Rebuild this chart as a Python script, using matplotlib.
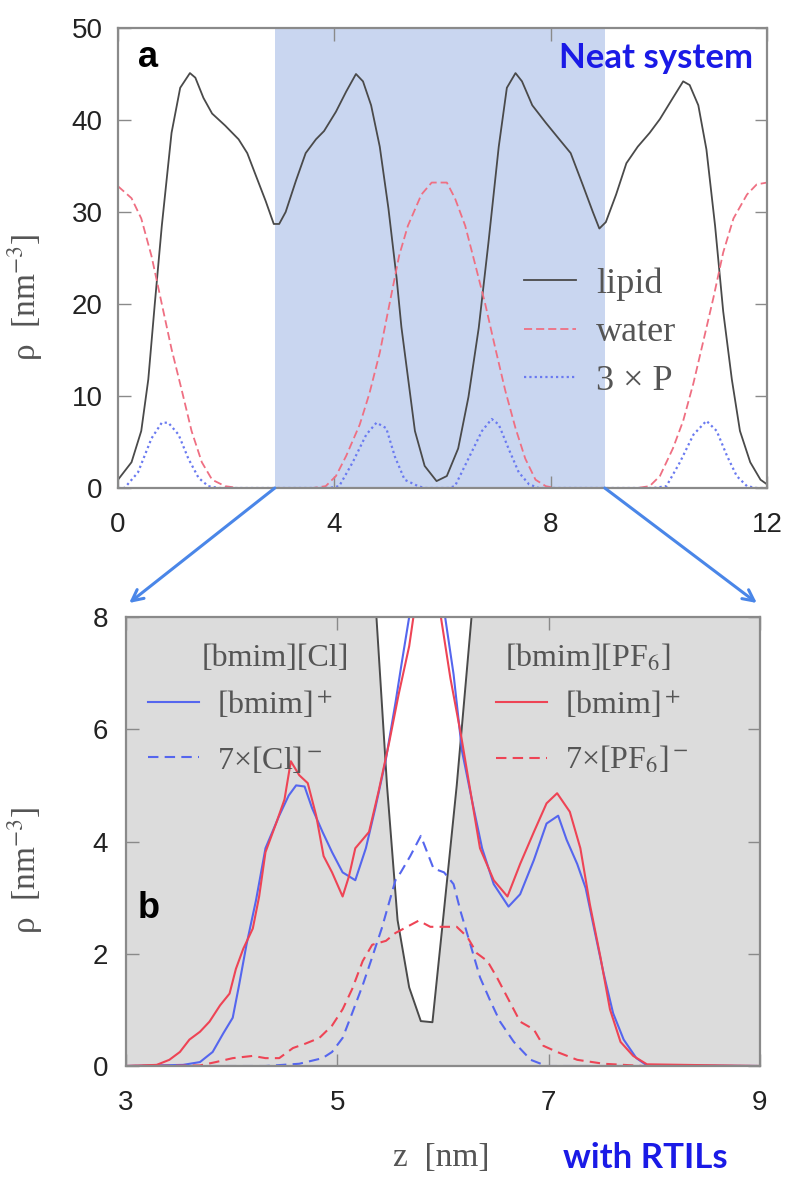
import matplotlib
matplotlib.use("Agg")
import matplotlib.pyplot as plt
from matplotlib.patches import ConnectionPatch

plt.rcParams['mathtext.fontset'] = 'stix'

# ---------------- data: top panel (neat system) ----------------
z_lipid = [0.0, 0.25, 0.43, 0.56, 0.68, 0.81, 0.99, 1.15, 1.33, 1.43, 1.58, 1.74, 1.98, 2.23, 2.39,
           2.54, 2.73, 2.88, 2.98, 3.1, 3.29, 3.47, 3.66, 3.81, 4.03, 4.22, 4.4, 4.53, 4.68, 4.84,
           5.0, 5.15, 5.24, 5.49, 5.67, 5.89, 6.08, 6.29, 6.48, 6.67, 6.85, 7.04, 7.19, 7.35, 7.47,
           7.66, 7.91, 8.16, 8.37, 8.59, 8.78, 8.9, 9.02, 9.21, 9.4, 9.61, 9.83, 10.02, 10.26, 10.45,
           10.57, 10.73, 10.88, 11.04, 11.19, 11.35, 11.5, 11.69, 11.88, 12.0]
lipid = [0.9, 2.8, 6.2, 11.8, 20.0, 28.5, 38.6, 43.5, 45.1, 44.6, 42.4, 40.7, 39.4, 37.9, 36.4,
         34.1, 31.2, 28.7, 28.7, 30.0, 33.4, 36.4, 37.9, 38.8, 40.9, 43.1, 45.0, 44.2, 41.6, 37.1,
         30.4, 22.9, 17.5, 6.2, 2.4, 0.75, 1.3, 4.3, 9.9, 17.4, 26.7, 37.1, 43.5, 45.1, 44.2,
         41.6, 39.7, 37.9, 36.4, 33.0, 30.0, 28.2, 28.9, 31.9, 35.3, 37.1, 38.6, 40.1, 42.4, 44.2,
         43.8, 41.6, 36.8, 28.5, 19.2, 11.8, 6.2, 2.8, 0.9, 0.4]

z_water = [0.0, 0.25, 0.43, 0.62, 0.81, 0.99, 1.18, 1.36, 1.55, 1.74, 1.98, 2.23, 3.6, 3.84, 4.03,
           4.22, 4.47, 4.65, 4.84, 5.02, 5.2, 5.36, 5.61, 5.8, 6.08, 6.23, 6.42, 6.6, 6.79, 6.98,
           7.16, 7.35, 7.53, 7.72, 7.91, 8.09, 9.6, 9.83, 10.02, 10.26, 10.45, 10.64, 10.82, 11.01,
           11.19, 11.38, 11.63, 11.81, 12.0]
water = [32.8, 31.5, 29.3, 25.2, 20.0, 15.1, 10.6, 6.2, 2.8, 0.9, 0.2, 0.0, 0.0, 0.2, 1.3,
         3.5, 6.9, 10.3, 14.7, 20.0, 25.3, 28.5, 31.9, 33.2, 33.2, 31.5, 28.5, 24.4, 20.0, 15.1,
         10.6, 6.5, 3.2, 0.9, 0.2, 0.0, 0.0, 0.2, 1.3, 4.3, 7.3, 11.4, 15.9, 20.7,
         25.6, 29.3, 31.9, 33.0, 33.2]

z_P = [0.0, 0.12, 0.37, 0.62, 0.81, 0.93, 1.12, 1.3, 1.49, 1.67, 1.86, 3.9, 4.09, 4.34, 4.59,
       4.78, 4.96, 5.12, 5.3, 5.55, 5.67, 6.1, 6.23, 6.48, 6.73, 6.91, 7.04, 7.22, 7.41, 7.6,
       7.78, 9.9, 10.14, 10.39, 10.64, 10.88, 11.07, 11.26, 11.44, 11.63, 11.81, 12.0]
P3 = [0.0, 0.0, 1.7, 5.4, 7.1, 7.1, 5.8, 3.2, 1.1, 0.2, 0.0, 0.0, 0.2, 2.8, 5.8,
      7.1, 6.5, 3.4, 0.9, 0.2, 0.0, 0.0, 0.2, 3.2, 6.2, 7.5, 6.9, 4.3, 1.7, 0.4,
      0.0, 0.0, 0.2, 2.8, 5.8, 7.3, 6.2, 3.5, 1.3, 0.2, 0.0, 0.0]

shade_range = [2.9, 9.0]

# ---------------- data: bottom panel (with RTILs) ----------------
z_lip_b = [3.0, 4.4, 5.2, 5.37, 5.47, 5.57, 5.68, 5.79, 5.9, 6.0, 6.13, 6.27, 6.45, 7.35, 9.0]
lipid_b = [28.7, 45.0, 14.0, 8.0, 5.0, 2.6, 1.4, 0.8, 0.78, 2.6, 5.0, 8.0, 12.0, 45.0, 28.9]

z_cl_cat = [3.0, 3.54, 3.7, 3.82, 3.92, 4.01, 4.07, 4.14, 4.23, 4.32, 4.45, 4.54, 4.61, 4.69, 4.76,
            4.86, 4.95, 5.05, 5.17, 5.27, 5.36, 5.46, 5.55, 5.61, 5.68, 5.8, 5.9, 6.02, 6.1, 6.18,
            6.28, 6.37, 6.48, 6.62, 6.73, 6.86, 6.98, 7.09, 7.17, 7.27, 7.35, 7.43, 7.52, 7.61,
            7.71, 7.83, 7.93, 9.0]
cl_cat = [0.0, 0.02, 0.07, 0.25, 0.58, 0.86, 1.44, 2.16, 2.95, 3.88, 4.46, 4.82, 5.0, 4.98, 4.6,
          4.17, 3.81, 3.45, 3.31, 3.88, 4.6, 5.47, 6.47, 7.19, 8.0, 9.2, 9.2, 8.0, 6.98, 5.61,
          4.68, 3.88, 3.24, 2.84, 3.06, 3.67, 4.32, 4.46, 4.03, 3.6, 3.17, 2.45, 1.65, 0.94,
          0.47, 0.14, 0.01, 0.0]

z_pf_cat = [3.0, 3.29, 3.41, 3.51, 3.6, 3.7, 3.79, 3.89, 3.98, 4.04, 4.11, 4.2, 4.26, 4.32, 4.42,
            4.5, 4.56, 4.64, 4.72, 4.8, 4.87, 4.95, 5.05, 5.11, 5.17, 5.3, 5.39, 5.49, 5.58, 5.68,
            5.72, 5.85, 5.98, 6.07, 6.17, 6.26, 6.35, 6.48, 6.61, 6.73, 6.86, 6.98, 7.08, 7.2,
            7.3, 7.39, 7.49, 7.58, 7.68, 7.8, 7.93, 9.0]
pf_cat = [0.0, 0.02, 0.11, 0.25, 0.47, 0.61, 0.79, 1.08, 1.29, 1.73, 2.09, 2.45, 3.02, 3.81, 4.32,
          4.75, 5.43, 5.18, 5.04, 4.46, 3.74, 3.45, 3.02, 3.38, 3.88, 4.17, 4.89, 5.76, 6.62, 7.48,
          8.0, 9.0, 8.0, 6.91, 5.9, 4.89, 3.88, 3.31, 3.02, 3.6, 4.17, 4.68, 4.86, 4.53,
          3.88, 2.88, 1.94, 1.01, 0.43, 0.18, 0.03, 0.0]

z_cl_an = [3.0, 4.32, 4.64, 4.86, 4.95, 5.05, 5.14, 5.24, 5.33, 5.42, 5.55, 5.6, 5.69, 5.79, 5.85,
           5.91, 6.01, 6.1, 6.17, 6.26, 6.35, 6.45, 6.54, 6.67, 6.83, 6.98, 9.0]
cl_an = [0.0, 0.0, 0.04, 0.14, 0.25, 0.5, 0.94, 1.44, 1.94, 2.45, 3.31, 3.45, 3.74, 4.1, 3.81,
         3.52, 3.45, 3.24, 2.73, 2.16, 1.58, 1.15, 0.79, 0.43, 0.11, 0.0, 0.0]

z_pf_an = [3.0, 3.7, 3.85, 4.01, 4.2, 4.32, 4.45, 4.58, 4.7, 4.83, 4.95, 5.05, 5.14, 5.24, 5.33,
           5.46, 5.55, 5.63, 5.77, 5.88, 6.01, 6.13, 6.23, 6.32, 6.42, 6.51, 6.61, 6.73, 6.86,
           6.95, 7.08, 7.27, 7.52, 7.9, 9.0]
pf_an = [0.0, 0.01, 0.07, 0.14, 0.18, 0.14, 0.14, 0.32, 0.4, 0.5, 0.72, 1.01, 1.37, 1.87, 2.16,
         2.23, 2.37, 2.45, 2.59, 2.48, 2.48, 2.48, 2.3, 2.01, 1.87, 1.58, 1.22, 0.79, 0.65,
         0.36, 0.25, 0.11, 0.04, 0.0, 0.0]

top_xticks = [0, 4, 8, 12]
top_yticks = [0, 10, 20, 30, 40, 50]
bot_xticks = [3, 5, 7, 9]
bot_yticks = [0, 2, 4, 6, 8]

# ---------------- styling ----------------
W, H = 788, 1177
fig = plt.figure(figsize=(W / 100, H / 100), dpi=100)
SANS = ['Liberation Sans', 'DejaVu Sans']
SERIF = ['Liberation Serif', 'DejaVu Serif']
BOLD = ['Lato', 'DejaVu Sans']
frame_c = '#8a8a8a'
txt_gray = '#555555'
c_lip = '#4a4a4a'
c_red = '#ee4455'
c_blue = '#5566ee'
c_water = '#ef6f82'
c_P = '#6a7af0'
c_title = '#1a1ae6'
c_arrow = '#4a86e8'

ax1 = fig.add_axes([118 / W, 1 - 488 / H, (767 - 118) / W, (488 - 28) / H])
ax2 = fig.add_axes([126 / W, 1 - 1066 / H, (760 - 126) / W, (1066 - 617) / H])


def style(ax, xt, yt, ypad):
    for s in ax.spines.values():
        s.set_color(frame_c)
        s.set_linewidth(1.6)
    ax.set_xticks(xt)
    ax.set_yticks(yt)
    ax.tick_params(direction='in', top=True, right=True, length=9, width=1.0,
                   color=frame_c, labelsize=20, labelcolor='#222222')
    ax.tick_params(axis='x', pad=17)
    ax.tick_params(axis='y', pad=ypad)
    for lab in ax.get_xticklabels() + ax.get_yticklabels():
        lab.set_fontfamily(SANS)


# ---- top panel ----
ax1.axvspan(shade_range[0], shade_range[1], color='#c9d6f0', lw=0, zorder=0)
ax1.plot(z_lipid, lipid, color=c_lip, lw=1.3, label='lipid')
ax1.plot(z_water, water, color=c_water, lw=1.3, ls=(0, (4.5, 2.2)), label='water')
ax1.plot(z_P, P3, color=c_P, lw=1.6, ls=(0, (1.0, 1.4)), label='3 × P')
ax1.set_xlim(0, 12)
ax1.set_ylim(0, 50)
style(ax1, top_xticks, top_yticks, 11)
leg1 = ax1.legend(loc='upper left', bbox_to_anchor=(7.5, 24.0), bbox_transform=ax1.transData,
                  frameon=False, prop={'family': SERIF, 'size': 26}, handlelength=1.45,
                  handletextpad=0.55, labelspacing=0.42, borderpad=0, borderaxespad=0)
for t in leg1.get_texts():
    t.set_color(txt_gray)
ax1.text(0.55, 46.8, 'a', fontsize=26, fontweight='bold', family=SANS, ha='center', va='center')
ax1.text(11.75, 46.7, 'Neat system', fontsize=25, fontweight='bold', family=BOLD,
         color=c_title, ha='right', va='center')
fig.text(25 / W, 1 - 297 / H, 'ρ  [nm$^{-3}$]', rotation=90, ha='center', va='center',
         fontsize=24, family=SERIF, color=txt_gray)

# ---- bottom panel ----
ax2.set_facecolor('white')
ax2.fill_between(z_lip_b, 0, lipid_b, color='#dcdcdc', lw=0, zorder=0)
ax2.plot(z_lip_b, lipid_b, color=c_lip, lw=1.4, zorder=1)
l_cc, = ax2.plot(z_cl_cat, cl_cat, color=c_blue, lw=1.5, label='[bmim]$^+$')
l_ca, = ax2.plot(z_cl_an, cl_an, color=c_blue, lw=1.5, ls=(0, (5, 3)), label='7×[Cl]$^-$')
l_pc, = ax2.plot(z_pf_cat, pf_cat, color=c_red, lw=1.5, label='[bmim]$^+$')
l_pa, = ax2.plot(z_pf_an, pf_an, color=c_red, lw=1.5, ls=(0, (5, 3)), label='7×[PF$_6$]$^-$')
ax2.set_xlim(3, 9)
ax2.set_ylim(0, 8)
style(ax2, bot_xticks, bot_yticks, 13)

legkw = dict(frameon=False, prop={'family': SERIF, 'size': 23}, handlelength=1.6,
             handletextpad=0.55, labelspacing=0.75, borderpad=0, borderaxespad=0)
legL = ax2.legend(handles=[l_cc, l_ca], loc='upper left', bbox_to_anchor=(3.21, 6.72),
                  bbox_transform=ax2.transData, **legkw)
ax2.add_artist(legL)
legR = ax2.legend(handles=[l_pc, l_pa], loc='upper left', bbox_to_anchor=(6.5, 6.72),
                  bbox_transform=ax2.transData, **legkw)
for lg in (legL, legR):
    for t in lg.get_texts():
        t.set_color(txt_gray)
ax2.text(4.41, 7.26, '[bmim][Cl]', fontsize=23, family=SERIF, color=txt_gray,
         ha='center', va='center')
ax2.text(7.37, 7.26, '[bmim][PF$_6$]', fontsize=23, family=SERIF, color=txt_gray,
         ha='center', va='center')
ax2.text(3.21, 2.8, 'b', fontsize=26, fontweight='bold', family=SANS, ha='center', va='center')
fig.text(25 / W, 1 - 870 / H, 'ρ  [nm$^{-3}$]', rotation=90, ha='center', va='center',
         fontsize=24, family=SERIF, color=txt_gray)
fig.text(441 / W, 1 - 1158 / H, 'z  [nm]', ha='center', va='center',
         fontsize=24, family=SERIF, color=txt_gray)
fig.text(645 / W, 1 - 1158 / H, 'with RTILs', ha='center', va='center',
         fontsize=25, fontweight='bold', family=BOLD, color=c_title)

# ---- connecting arrows ----
for xa, xb in [(shade_range[0], 3.03), (shade_range[1], 8.97)]:
    cp = ConnectionPatch(xyA=(xa, 0), coordsA=ax1.transData,
                         xyB=(xb, 8.25), coordsB=ax2.transData,
                         arrowstyle='->,head_length=0.8,head_width=0.4', color=c_arrow,
                         lw=2.2, shrinkA=0, shrinkB=0, zorder=10)
    cp.set_clip_on(False)
    fig.add_artist(cp)

fig.savefig('out.png', dpi=100)
